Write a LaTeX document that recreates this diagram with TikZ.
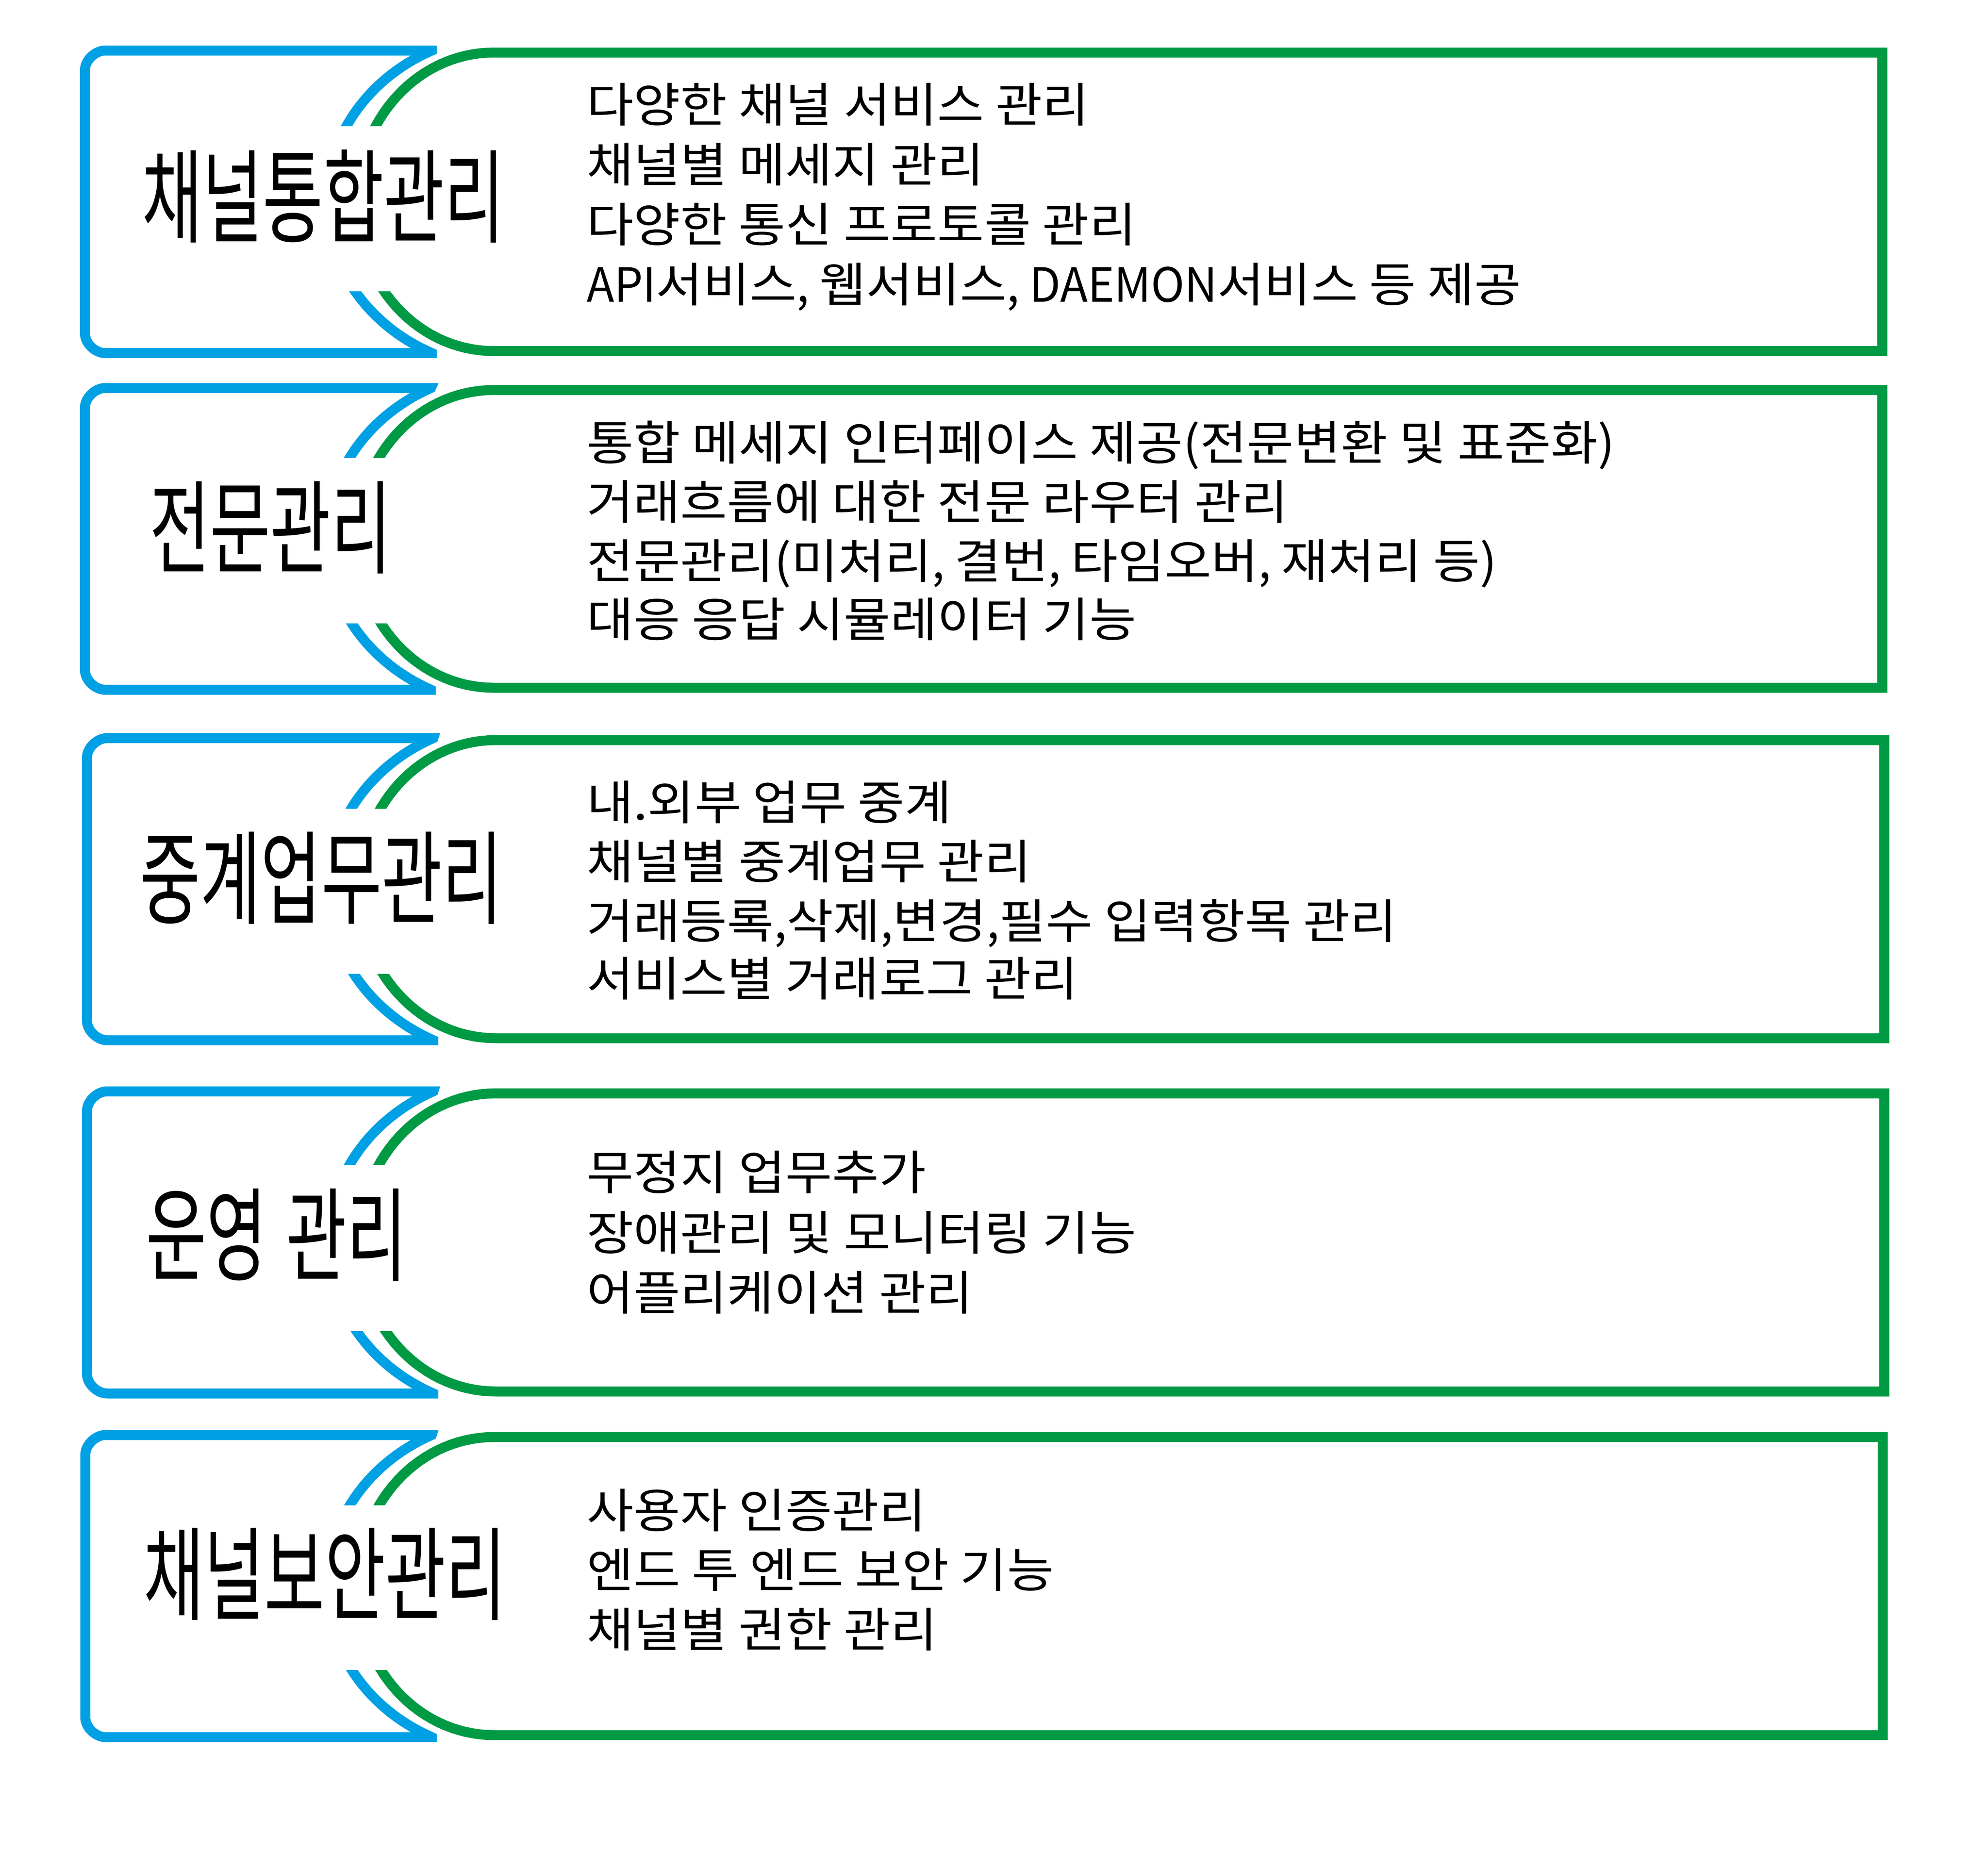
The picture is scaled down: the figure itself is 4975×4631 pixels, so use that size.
\documentclass[tikz,border=0pt]{standalone}
\usepackage{fontspec}
\newfontfamily\titlefont[FakeStretch=0.645]{Noto Sans CJK KR}
\newfontfamily\bodyfont[FakeStretch=1.08]{Noto Sans CJK KR}
\newfontfamily\latinfont[FakeStretch=0.96]{Noto Sans CJK KR}
\newcommand\lat[1]{{\latinfont #1}}
\definecolor{cblue}{RGB}{0,160,228}
\definecolor{cgreen}{RGB}{0,154,68}
\tikzset{
  bluebox/.style={draw=cblue, line width=25pt, line join=miter, miter limit=3},
  greenbox/.style={draw=cgreen, line width=25pt, line join=miter},
  titletext/.style={font=\titlefont\fontsize{255}{260}\selectfont, inner sep=0pt, anchor=base west},
  bodytext/.style={font=\bodyfont\fontsize{118}{148}\selectfont, inner sep=0pt, anchor=base west},
}
% #1 dx, #2 top, #3 bottom, #4 cover top, #5 cover bottom
\newcommand\myblock[5]{%
  \pgfmathsetmacro\mymid{(#2+#3)/2}%
  \pgfmathsetmacro\myhalf{(#3-#2)/2}%
  \pgfmathsetmacro\mytz{asin(\myhalf/420)}%
  \pgfmathsetmacro\mytip{1282+#1-465*cos(\mytz)}%
  \draw[bluebox] (\mytip,#2) -- ({262.5+#1},#2)
    .. controls ({240.1+#1},#2) and ({212.5+#1},{#2+22.4}) .. ({212.5+#1},{#2+50})
    -- ({212.5+#1},{#3-50})
    .. controls ({212.5+#1},{#3-22.4}) and ({240.1+#1},#3) .. ({262.5+#1},#3)
    -- (\mytip,#3)
    -- plot[variable=\t, domain=\mytz:-\mytz, samples=61] ({1282+#1-465*cos(\t)},{\mymid+420*sin(\t)})
    -- cycle;
  \draw[greenbox] ({1235+#1},{#2+5}) -- ({4710.5+#1},{#2+5}) -- ({4710.5+#1},{#3-5}) -- ({1235+#1},{#3-5})
    -- plot[variable=\t, domain=90:-90, samples=61] ({1235+#1-342*cos(\t)},{\mymid+(\myhalf-5)*sin(\t)})
    -- cycle;
  \fill[white] ({245+#1},#4) rectangle ({1010+#1},#5);
}
\begin{document}
\begin{tikzpicture}[x=1pt, y=-1pt]
\useasboundingbox (0,0) rectangle (4975,4631);
\fill[white] (0,0) rectangle (4975,4631);

% block 1
\myblock{0}{126.5}{883.5}{316}{729}
\node[titletext] (t1) at (355,587) {채널통합관리};
\node[bodytext] (b1a) at (1468,305) {다양한 채널 서비스 관리};
\node[bodytext] (b1b) at (1468,455) {채널별 메세지 관리};
\node[bodytext] (b1c) at (1468,605) {다양한 통신 프로토콜 관리};
\node[bodytext] (b1d) at (1468,755) {\lat{API}서비스\lat{, }웹서비스\lat{, DAEMON}서비스 등 제공};

% block 2
\myblock{0}{971}{1726}{1146}{1560}
\node[titletext] (t2) at (374,1415) {전문관리};
\node[bodytext] (b2a) at (1468,1151) {통합 메세지 인터페이스 제공(전문변환 및 표준화)};
\node[bodytext] (b2b) at (1468,1299) {거래흐름에 대한 전문 라우터 관리};
\node[bodytext] (b2c) at (1468,1447) {전문관리(미처리\lat{, }결번\lat{, }타임오버\lat{, }재처리 등)};
\node[bodytext] (b2d) at (1468,1593) {대응 응답 시뮬레이터 기능};

% block 3
\myblock{5}{1847}{2603}{2024}{2437}
\node[titletext] (t3) at (350,2292) {중계업무관리};
\node[bodytext] (b3a) at (1468,2051) {내.외부 업무 중계};
\node[bodytext] (b3b) at (1468,2199) {채널별 중계업무 관리};
\node[bodytext] (b3c) at (1468,2348) {거래등록\lat{,}삭제\lat{,}변경\lat{,}필수 입력항목 관리};
\node[bodytext] (b3d) at (1468,2492) {서비스별 거래로그 관리};

% block 4
\myblock{5}{2731}{3487}{2916}{3331}
\node[titletext] (t4) at (365,3185) {운영\hspace{12pt} 관리};
\node[bodytext] (b4a) at (1468,2977) {무정지 업무추가};
\node[bodytext] (b4b) at (1468,3128) {장애관리 및 모니터링 기능};
\node[bodytext] (b4c) at (1468,3278) {어플리케이션 관리};

% block 5
\myblock{1}{3591}{4347}{3767}{4179}
\node[titletext] (t5) at (359,4034) {채널보안관리};
\node[bodytext] (b5a) at (1468,3823) {사용자 인증관리};
\node[bodytext] (b5b) at (1468,3972) {엔드 투 엔드 보안 기능};
\node[bodytext] (b5c) at (1468,4121) {채널별 권한 관리};
\end{tikzpicture}
\end{document}
